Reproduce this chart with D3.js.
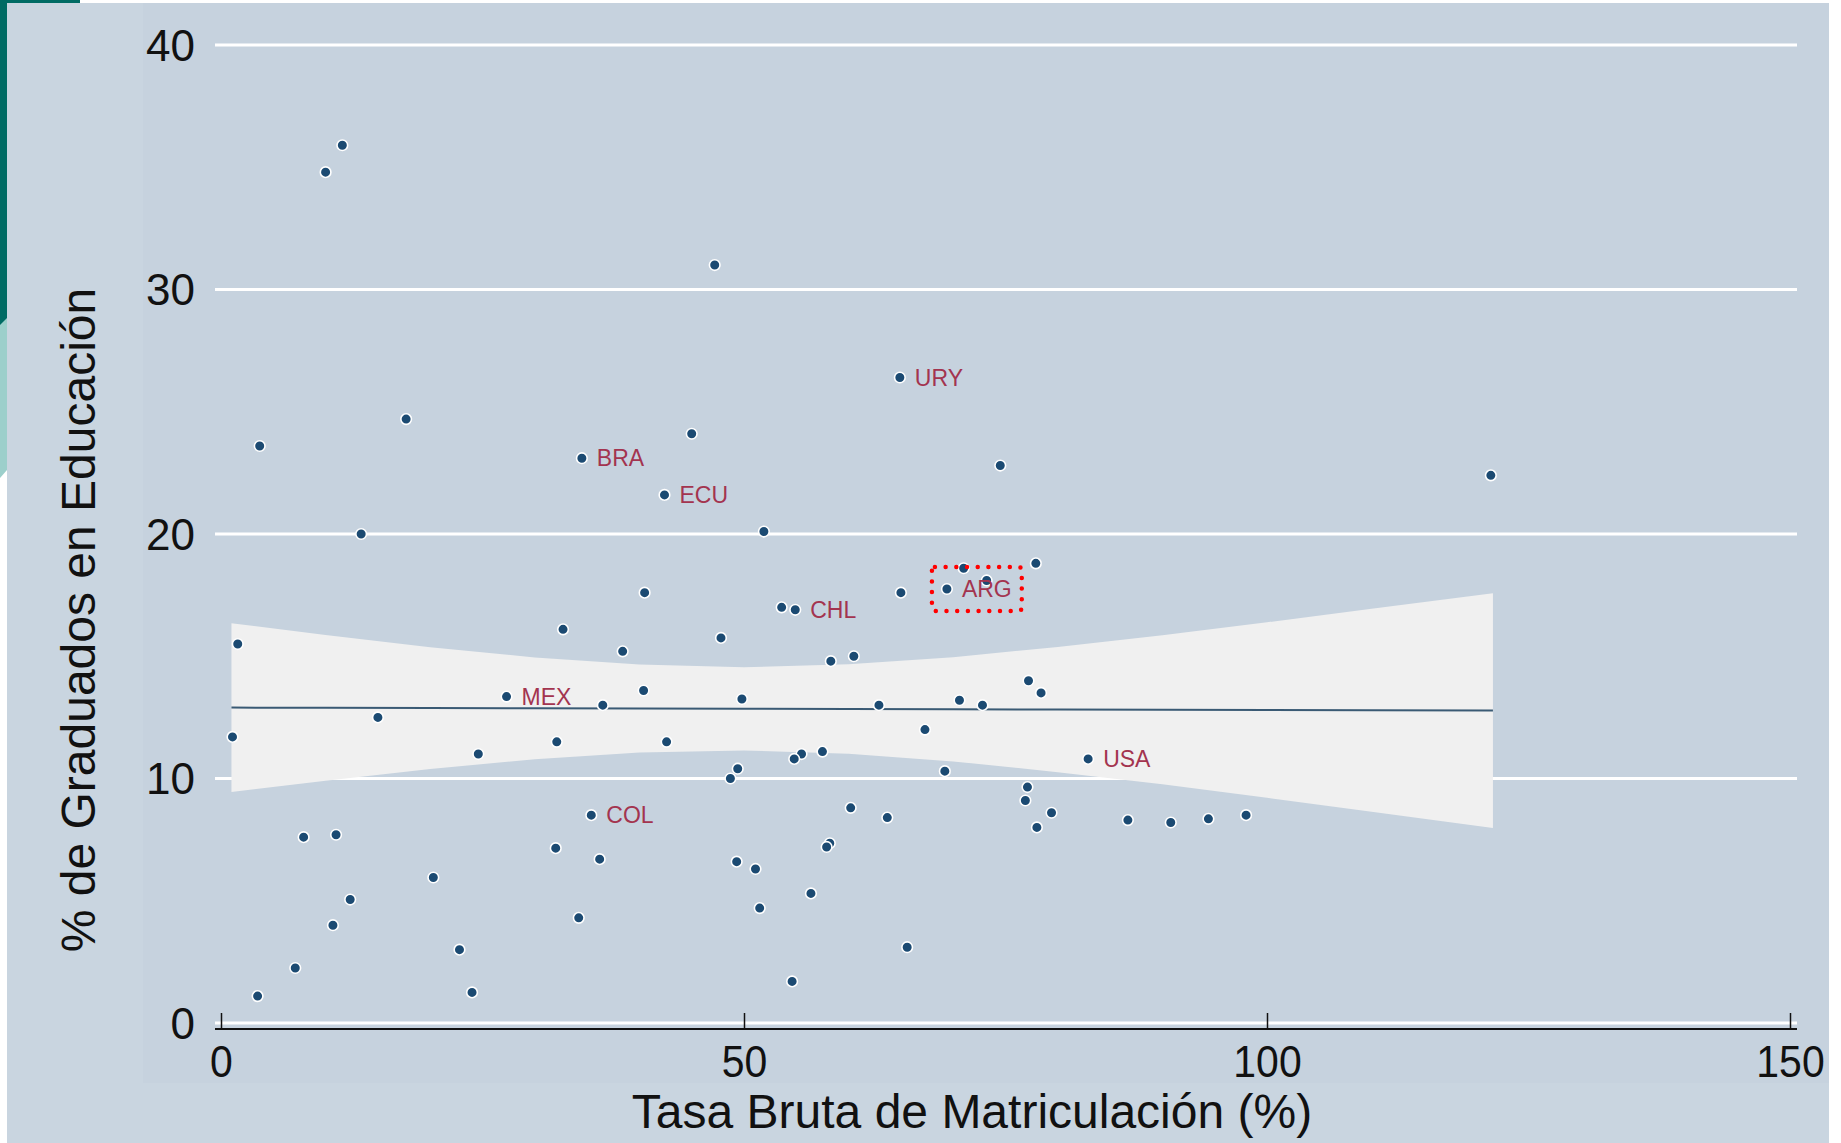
<!DOCTYPE html>
<html>
<head>
<meta charset="utf-8">
<script src="https://cdn.jsdelivr.net/npm/d3@7"></script>
<style>
  html, body { margin: 0; padding: 0; background: #ffffff; }
  svg { display: block; }
</style>
</head>
<body>
<svg id="chart"></svg>
<script>
// Datos: tasa bruta de matriculación (x) y % de graduados en educación (y)
const tasa = [10.0, 11.6, 47.2, 64.9, 17.7, 3.7, 34.5, 45.0, 74.5, 121.4,
              42.4, 13.4, 51.9, 40.5, 53.6, 54.9, 65.0, 69.4, 71.0, 73.2,
              77.9, 1.6, 32.7, 47.8, 38.4, 58.3, 60.5, 77.2, 78.4, 40.4,
              27.3, 36.5, 49.8, 62.9, 70.6, 72.8, 15.0, 1.1, 32.1, 42.6,
              67.3, 24.6, 55.5, 54.8, 57.5, 82.9, 49.4, 48.7, 69.2, 77.1,
              76.9, 60.2, 63.7, 79.4, 78.0, 35.4, 86.7, 90.8, 94.4, 98.0,
              7.9, 11.0, 32.0, 58.2, 57.9, 36.2, 49.3, 51.1, 20.3, 12.35,
              56.4, 51.5, 34.2, 10.7, 22.8, 65.6, 7.1, 54.6, 24.0, 3.5];
const graduados = [34.8, 35.9, 31.0, 26.4, 24.7, 23.6, 23.1, 24.1, 22.8, 22.4,
                   21.6, 20.0, 20.1, 17.6, 17.0, 16.9, 17.6, 17.75, 18.6, 18.1,
                   18.8, 15.5, 16.1, 15.75, 15.2, 14.8, 15.0, 14.0, 13.5, 13.6,
                   13.35, 13.0, 13.25, 13.0, 13.2, 13.0, 12.5, 11.7, 11.5, 11.5,
                   12.0, 11.0, 11.0, 10.8, 11.1, 10.8, 10.4, 10.0, 10.3, 9.65,
                   9.1, 8.8, 8.4, 8.6, 8.0, 8.5, 8.3, 8.2, 8.35, 8.5,
                   7.6, 7.7, 7.15, 7.35, 7.2, 6.7, 6.6, 6.3, 5.95, 5.05,
                   5.3, 4.7, 4.3, 4.0, 3.0, 3.1, 2.25, 1.7, 1.25, 1.1];
const pais = ["", "", "", "URY", "", "", "BRA", "", "", "",
              "ECU", "", "", "", "", "CHL", "", "ARG", "", "",
              "", "", "", "", "", "", "", "", "", "",
              "MEX", "", "", "", "", "", "", "", "", "",
              "", "", "", "", "", "USA", "", "", "", "",
              "", "", "", "", "", "COL", "", "", "", "",
              "", "", "", "", "", "", "", "", "", "",
              "", "", "", "", "", "", "", "", "", ""];

// Recta ajustada e intervalo de confianza
const ajusteX  = [1.0, 10, 20, 30, 40, 50, 60, 70, 80, 90, 100, 110, 121.6];
const ajusteY  = [12.9, 12.89, 12.88, 12.87, 12.86, 12.85, 12.84, 12.83, 12.82, 12.81, 12.80, 12.79, 12.78];
const icSup    = [16.35, 15.87, 15.37, 14.95, 14.66, 14.55, 14.67, 14.96, 15.38, 15.86, 16.39, 16.94, 17.58];
const icInf    = [9.45, 9.91, 10.39, 10.79, 11.06, 11.15, 11.01, 10.70, 10.26, 9.76, 9.21, 8.64, 7.98];

// Marcas de los ejes
const ticksX = [0, 50, 100, 150];
const ticksY = [0, 10, 20, 30, 40];

const width = 1841, height = 1143;
const font = "'Liberation Sans', Arial, Helvetica, sans-serif";

const svg = d3.select("#chart")
    .attr("width", width)
    .attr("height", height);

// Fondo y decoración de la diapositiva
svg.append("rect").attr("width", width).attr("height", height).attr("fill", "#ffffff");
svg.append("rect").attr("x", 7).attr("y", 3).attr("width", 1822).attr("height", 1140).attr("fill", "#c9d5e0");
svg.append("rect").attr("x", 143).attr("y", 3).attr("width", 1686).attr("height", 1080).attr("fill", "#c6d2de");
svg.append("rect").attr("x", 0).attr("y", 0).attr("width", 80).attr("height", 3).attr("fill", "#006b64");
svg.append("rect").attr("x", 0).attr("y", 0).attr("width", 7).attr("height", 325).attr("fill", "#006b64");
svg.append("path").attr("d", "M0,325 L7,318 L7,470 L0,478 Z").attr("fill", "#9ccfcb");

// Escalas
const x = d3.scaleLinear().domain([0, 150]).range([221, 1790]);
const y = d3.scaleLinear().domain([0, 40]).range([1023, 45]);

// Líneas de la cuadrícula
svg.append("g")
    .selectAll("line")
    .data(ticksY)
    .enter()
    .append("line")
    .attr("x1", 215)
    .attr("x2", 1797)
    .attr("y1", d => y(d))
    .attr("y2", d => y(d))
    .attr("stroke", "#ffffff")
    .attr("stroke-width", 3);

// Etiquetas del eje Y
svg.append("g")
    .selectAll("text")
    .data(ticksY)
    .enter()
    .append("text")
    .attr("x", 195)
    .attr("y", d => y(d))
    .attr("dy", "0.36em")
    .attr("text-anchor", "end")
    .style("font-family", font)
    .style("font-size", "44px")
    .attr("fill", "#111111")
    .text(d => d);

// Intervalo de confianza
const banda = ajusteX.map((d, i) => ({x: d, lo: icInf[i], hi: icSup[i], fit: ajusteY[i]}));

const area = d3.area()
    .x(d => x(d.x))
    .y0(d => y(d.lo))
    .y1(d => y(d.hi));

svg.append("path")
    .datum(banda)
    .attr("d", area)
    .attr("fill", "#f0f0f0");

// Recta ajustada
const line = d3.line()
    .x(d => x(d.x))
    .y(d => y(d.fit));

svg.append("path")
    .datum(banda)
    .attr("d", line)
    .attr("fill", "none")
    .attr("stroke", "#3a5a74")
    .attr("stroke-width", 2);

// Eje X con marcas hacia dentro
const ejeX = d3.axisBottom(x)
    .tickValues(ticksX)
    .tickSize(-16)
    .tickSizeOuter(0)
    .tickFormat(d3.format("d"));

const gx = svg.append("g")
    .attr("transform", "translate(0,1029)")
    .call(ejeX);

gx.select(".domain").remove();
gx.append("line")
    .attr("x1", 215)
    .attr("x2", 1797)
    .attr("stroke", "#111111")
    .attr("stroke-width", 1.8);
gx.selectAll(".tick line").attr("stroke", "#111111").attr("stroke-width", 1.5);
// algo más estrechas que Arial normal
gx.selectAll(".tick text")
    .attr("y", 48)
    .attr("dy", 0)
    .attr("fill", "#111111")
    .attr("transform", "scale(0.91,1)")
    .style("font-family", font)
    .style("font-size", "45px");

// Puntos
const puntos = tasa.map((d, i) => ({x: d, y: graduados[i], pais: pais[i]}));

svg.append("g")
    .selectAll("circle")
    .data(puntos)
    .enter()
    .append("circle")
    .attr("cx", d => x(d.x))
    .attr("cy", d => y(d.y))
    .attr("r", 5.3)
    .attr("fill", "#1b4a72")
    .attr("stroke", "#ffffff")
    .attr("stroke-width", 1.6);

// Nombres de países
const etiquetas = svg.append("g")
    .selectAll("text")
    .data(puntos.filter(d => d.pais !== ""))
    .enter()
    .append("text")
    .attr("x", d => x(d.x) + 15)
    .attr("y", d => y(d.y))
    .attr("dy", "0.36em")
    .style("font-family", font)
    .style("font-size", "23px")
    .attr("fill", "#a3344f")
    .text(d => d.pais);

// Recuadro punteado rojo alrededor de ARG
etiquetas.filter(d => d.pais === "ARG").each(function (d) {
    const b = this.getBBox();
    const x0 = x(d.x) - 15, x1 = b.x + b.width + 10;
    const y0 = y(d.y) - 22, y1 = y(d.y) + 22;
    svg.append("rect")
        .attr("x", x0)
        .attr("y", y0)
        .attr("width", x1 - x0)
        .attr("height", y1 - y0)
        .attr("rx", 3)
        .attr("fill", "none")
        .attr("stroke", "#ff0000")
        .attr("stroke-width", 4.5)
        .attr("stroke-linecap", "round")
        .attr("stroke-dasharray", "0 10.7");
});

// Títulos de los ejes
svg.append("text")
    .attr("x", 972)
    .attr("y", 1128)
    .attr("text-anchor", "middle")
    .style("font-family", font)
    .style("font-size", "48px")
    .attr("fill", "#111111")
    .text("Tasa Bruta de Matriculación (%)");

svg.append("text")
    .attr("transform", "translate(95,620) rotate(-90)")
    .attr("text-anchor", "middle")
    .style("font-family", font)
    .style("font-size", "48px")
    .attr("fill", "#111111")
    .text("% de Graduados en Educación");
</script>
</body>
</html>
